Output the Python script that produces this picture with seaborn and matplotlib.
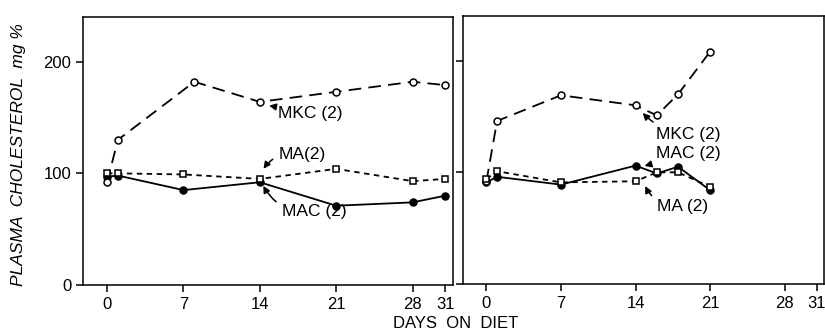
import seaborn as sns
import pandas as pd
import matplotlib.pyplot as plt

# left panel
left_days_mkc = [0, 1, 8, 14, 21, 28, 31]
left_mkc = [92, 130, 182, 164, 173, 182, 179]
left_days = [0, 1, 7, 14, 21, 28, 31]
left_ma = [100, 100, 99, 95, 104, 93, 95]
left_mac = [97, 98, 85, 92, 71, 74, 80]

# right panel
right_days = [0, 1, 7, 14, 16, 18, 21]
right_mkc = [92, 146, 169, 160, 151, 170, 208]
right_ma = [94, 101, 91, 92, 100, 100, 87]
right_mac = [91, 96, 89, 106, 99, 105, 84]

xticks = [0, 7, 14, 21, 28, 31]
yticks = [0, 100, 200]

sns.set_style("ticks")
plt.rcParams['font.family'] = ['Liberation Sans', 'DejaVu Sans']
plt.rcParams['axes.linewidth'] = 1.1
plt.rcParams['text.color'] = 'black'
plt.rcParams['axes.labelcolor'] = 'black'

fig = plt.figure(figsize=(8.25, 3.3), dpi=100)
ax1 = fig.add_axes([83 / 825, 45 / 330, 370 / 825, 268 / 330])
ax2 = fig.add_axes([463 / 825, 46 / 330, 361 / 825, 268 / 330])

styles = {
    "MKC": dict(marker="o", markerfacecolor="white", linestyle=(0, (7, 4)), zorder=3),
    "MA": dict(marker="s", markerfacecolor="white", linestyle=(0, (3, 2.5)), zorder=4),
    "MAC": dict(marker="o", markerfacecolor="black", linestyle="-", zorder=2),
}


def draw(ax, series):
    for name, days, vals in series:
        df = pd.DataFrame({"day": days, "chol": vals})
        sns.lineplot(data=df, x="day", y="chol", ax=ax, color="black",
                     linewidth=1.3, markersize=5, markeredgecolor="black",
                     markeredgewidth=1.1, **styles[name])


draw(ax1, [("MAC", left_days, left_mac), ("MKC", left_days_mkc, left_mkc),
           ("MA", left_days, left_ma)])
draw(ax2, [("MAC", right_days, right_mac), ("MKC", right_days, right_mkc),
           ("MA", right_days, right_ma)])

for ax in (ax1, ax2):
    ax.set_xlim(-2.2, 31.7)
    ax.set_ylim(0, 240)
    ax.set_xticks(xticks)
    ax.set_yticks(yticks)
    ax.set_xlabel("")
    ax.set_ylabel("")
    ax.tick_params(direction="out", length=5, width=1.1, labelsize=12, colors="black")
    for s in ax.spines.values():
        s.set_visible(True)
        s.set_color("black")

ax2.set_yticklabels([])
ax1.set_ylabel("PLASMA  CHOLESTEROL  mg %", fontsize=12.5, style="italic")
ax1.yaxis.set_label_coords(-0.154, 0.485)
fig.text(456 / 825, 1 - 323 / 330, "DAYS  ON  DIET", ha="center", va="center", fontsize=12)

arrow = dict(arrowstyle="-|>", color="black", lw=1.1, mutation_scale=10)
fs = 12.5
ax1.annotate("MKC (2)", xy=(14.6, 161), xytext=(15.7, 154), fontsize=fs,
             va="center", ha="left", arrowprops=arrow)
ax1.annotate("MA(2)", xy=(14.2, 102), xytext=(15.7, 117), fontsize=fs,
             va="center", ha="left",
             arrowprops=dict(arrow, connectionstyle="arc3,rad=0.35"))
ax1.annotate("MAC (2)", xy=(14.2, 91), xytext=(16.0, 66), fontsize=fs,
             va="center", ha="left",
             arrowprops=dict(arrow, connectionstyle="arc3,rad=-0.35"))

ax2.annotate("MKC (2)", xy=(14.5, 155), xytext=(15.9, 134), fontsize=fs,
             va="center", ha="left",
             arrowprops=dict(arrow, connectionstyle="arc3,rad=-0.2"))
ax2.annotate("MAC (2)", xy=(14.6, 105), xytext=(15.9, 117), fontsize=fs,
             va="center", ha="left", arrowprops=arrow)
ax2.annotate("MA (2)", xy=(14.8, 90), xytext=(16.0, 69), fontsize=fs,
             va="center", ha="left",
             arrowprops=dict(arrow, connectionstyle="arc3,rad=-0.35"))

fig.savefig("out.png", dpi=100)
